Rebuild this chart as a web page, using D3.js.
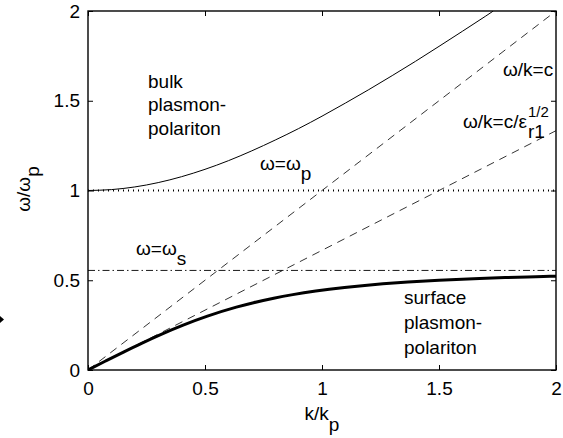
<!DOCTYPE html>
<html><head><meta charset="utf-8">
<script src="https://cdn.jsdelivr.net/npm/d3@7"></script>
<style>
body{margin:0;background:#fff}
svg{display:block}
text{font-family:"Liberation Sans",Arial,sans-serif;fill:#000}
</style>
</head><body>
<svg id="c" width="563" height="438"></svg>
<script>
// ---- data ----
const xTicks=[0,0.5,1,1.5,2];
const xTickLabels=["0","0.5","1","1.5","2"];
const yTicks=[0,0.5,1,1.5,2];
const yTickLabels=["0","0.5","1","1.5","2"];
// bulk plasmon-polariton branch
const bulkK=[0,0.1,0.2,0.3,0.4,0.5,0.6,0.7,0.8,0.9,1.0,1.1,1.2,1.3,1.4,1.5,1.6,1.7,1.732];
const bulkW=[1,1.005,1.0198,1.044,1.077,1.118,1.166,1.221,1.281,1.345,1.414,1.487,1.562,1.640,1.720,1.803,1.887,1.972,2.0];
// surface plasmon-polariton branch
const surfK=[0,0.0752,0.1517,0.2311,0.3151,0.4067,0.5104,0.6339,0.7077,0.7937,0.8753,0.9733,1.0310,1.0963,1.1717,1.2603,1.3670,1.5,1.6732,1.7824,1.9137,1.9743,2.0067];
const surfW=[0,0.05,0.1,0.15,0.2,0.25,0.3,0.35,0.375,0.4,0.42,0.44,0.45,0.46,0.47,0.48,0.49,0.5,0.51,0.515,0.52,0.522,0.523];
// light lines
const lightK=[0,2], lightW=[0,2];
const dielK=[0,2], dielW=[0,1.3333];
// horizontal levels
const omegaP=1, omegaS=0.5547;

// ---- drawing ----
const svg=d3.select("#c");
const x=d3.scaleLinear().domain([0,2]).range([88,556]);
const y=d3.scaleLinear().domain([0,2]).range([370,11]);
const FS=19;

svg.append("defs").append("clipPath").attr("id","clip")
  .append("rect").attr("x",x(0)).attr("y",y(2)).attr("width",x(2)-x(0)).attr("height",y(0)-y(2));

const plot=svg.append("g").attr("clip-path","url(#clip)");
const line=d3.line().x(d=>x(d[0])).y(d=>y(d[1]));
const zip=(a,b)=>a.map((v,i)=>[v,b[i]]);

// horizontal lines
plot.append("path").attr("d",line([[0,omegaP],[2,omegaP]]))
  .attr("fill","none").attr("stroke","#000").attr("stroke-width",2).attr("stroke-dasharray","1,4");
plot.append("path").attr("d",line([[0,omegaS],[2,omegaS]]))
  .attr("fill","none").attr("stroke","#000").attr("stroke-width",0.9).attr("stroke-dasharray","7,3,1.5,3");
// light lines
plot.append("path").attr("d",line(zip(lightK,lightW)))
  .attr("fill","none").attr("stroke","#000").attr("stroke-width",0.8).attr("stroke-dasharray","8,6");
plot.append("path").attr("d",line(zip(dielK,dielW)))
  .attr("fill","none").attr("stroke","#000").attr("stroke-width",0.8).attr("stroke-dasharray","8,6");
// bulk branch
plot.append("path").attr("d",line.curve(d3.curveMonotoneX)(zip(bulkK,bulkW)))
  .attr("fill","none").attr("stroke","#000").attr("stroke-width",1);
// surface branch
plot.append("path").attr("d",line.curve(d3.curveMonotoneX)(zip(surfK,surfW)))
  .attr("fill","none").attr("stroke","#000").attr("stroke-width",3);

// axes
function styleAxis(g){g.select(".domain").remove();g.attr("font-size",FS).attr("font-family","Liberation Sans, Arial, sans-serif");
  g.selectAll(".tick line").attr("stroke","#000").attr("stroke-width",1);}
svg.append("g").attr("transform",`translate(0,${y(0)})`)
  .call(d3.axisBottom(x).tickValues(xTicks).tickFormat((d,i)=>xTickLabels[i]).tickSize(-5).tickPadding(12)).call(styleAxis);
svg.append("g").attr("transform",`translate(${x(0)},0)`)
  .call(d3.axisLeft(y).tickValues(yTicks).tickFormat((d,i)=>yTickLabels[i]).tickSize(-5).tickPadding(8)).call(styleAxis);
svg.append("g").attr("transform",`translate(0,${y(2)})`)
  .call(d3.axisTop(x).tickValues(xTicks).tickFormat("").tickSize(-5)).call(styleAxis);
svg.append("g").attr("transform",`translate(${x(2)},0)`)
  .call(d3.axisRight(y).tickValues(yTicks).tickFormat("").tickSize(-5)).call(styleAxis);
svg.selectAll(".tick text").attr("fill","#000");

// box
svg.append("rect").attr("x",x(0)).attr("y",y(2)).attr("width",x(2)-x(0)).attr("height",y(0)-y(2))
  .attr("fill","none").attr("stroke","#000").attr("stroke-width",1.4);

// axis labels
const xl=svg.append("text").attr("x",322).attr("y",420).attr("text-anchor","middle").attr("font-size",FS);
xl.append("tspan").text("k/k");
xl.append("tspan").attr("dy",11).text("p");
const yl=svg.append("text").attr("transform","translate(30,189) rotate(-90)").attr("text-anchor","middle").attr("font-size",FS);
yl.append("tspan").text("ω/ω");
yl.append("tspan").attr("dy",9).text("p");

// annotations
function multi(xp,ys,lines){lines.forEach((t,i)=>svg.append("text").attr("x",xp).attr("y",ys[i]).attr("font-size",FS).text(t));}
multi(148,[88,111,135],["bulk","plasmon-","polariton"]);
multi(404,[304,329,354],["surface","plasmon-","polariton"]);

const wp=svg.append("text").attr("x",260).attr("y",170).attr("font-size",FS);
wp.append("tspan").text("ω=ω"); wp.append("tspan").attr("dy",10).text("p");
const ws=svg.append("text").attr("x",136).attr("y",255).attr("font-size",FS);
ws.append("tspan").text("ω=ω"); ws.append("tspan").attr("dy",10).text("s");

svg.append("text").attr("x",503).attr("y",76).attr("font-size",FS).text("ω/k=c");
const eps=svg.append("text").attr("x",463).attr("y",128).attr("font-size",FS).text("ω/k=c/ε");
const ew=eps.node().getComputedTextLength();
svg.append("text").attr("x",463+ew+1).attr("y",117).attr("font-size",15).text("1/2");
svg.append("text").attr("x",463+ew+1).attr("y",138).attr("font-size",FS).text("r1");

// small stray marker at the left edge
svg.append("path").attr("d","M0,316 L4,319.5 L0,323 Z").attr("fill","#000");
</script>
</body></html>
